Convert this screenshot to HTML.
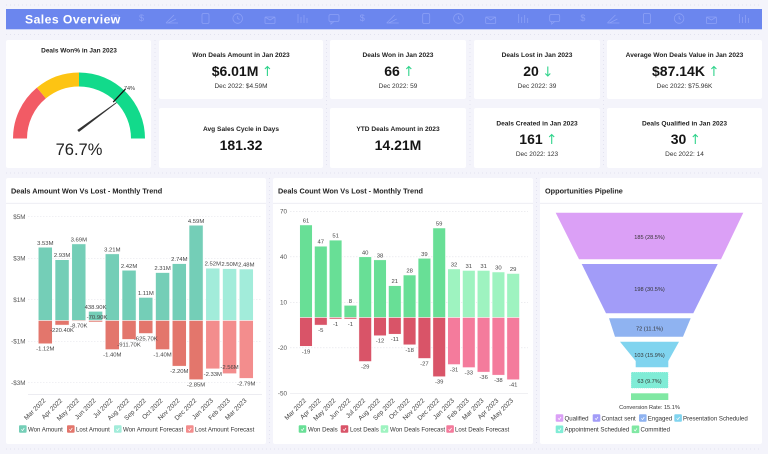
<!DOCTYPE html>
<html><head><meta charset="utf-8"><style>
html,body{margin:0;padding:0;background:#f4f4fb;}
svg{display:block;font-family:"Liberation Sans",sans-serif;}
</style></head><body>
<svg width="768" height="454" viewBox="0 0 768 454" xmlns="http://www.w3.org/2000/svg">
<rect width="768" height="454" fill="#f4f4fb"/>
<g stroke="#dcdcec" stroke-width="0.7" stroke-dasharray="1 3">
<line x1="6" y1="5" x2="762" y2="5"/><line x1="6" y1="34.5" x2="762" y2="34.5"/>
<line x1="6" y1="173" x2="762" y2="173"/><line x1="6" y1="449" x2="762" y2="449"/>
<line x1="155" y1="40" x2="155" y2="168"/><line x1="326.5" y1="40" x2="326.5" y2="168"/>
<line x1="470" y1="40" x2="470" y2="168"/><line x1="603.5" y1="40" x2="603.5" y2="168"/>
<line x1="269.5" y1="178" x2="269.5" y2="444"/><line x1="536.5" y1="178" x2="536.5" y2="444"/>
</g>
<!-- header -->
<rect x="6" y="9" width="756" height="20.3" fill="#6b86ee"/>
<g fill="none" stroke="#8da1f6" stroke-width="0.8">
<rect x="111" y="15" width="8" height="8" rx="2"/>
<g id="ic">
<path d="M166,23 L174,15 M168,23 L176,19 M166,23 L178,23"/>
<rect x="202" y="13.5" width="7" height="10" rx="1.5"/>
<circle cx="237.7" cy="18.5" r="4.8"/><path d="M237.7,16 L237.7,18.5 L239.5,19.5"/>
<rect x="265" y="17" width="10" height="6.5" rx="1"/><path d="M265,17 L270,20 L275,17"/>
<path d="M298,23 V14 M301,23 V17 M304,23 V15 M307,23 V18"/>
<rect x="329" y="14.5" width="10" height="7" rx="1.5"/><path d="M331,21.5 L331,24 L334,21.5"/>
</g>
<use href="#ic" x="220.7"/><use href="#ic" x="441.4"/>
</g>
<g fill="#8da1f6" font-size="9"><text x="139" y="21">$</text><text x="359.7" y="21">$</text><text x="580.4" y="21">$</text></g>
<text x="25" y="23.5" fill="#fff" font-size="12.2" font-weight="bold" letter-spacing="0.45">Sales Overview</text>

<!-- cards -->
<g fill="#fff">
<rect x="6" y="40" width="145" height="128" rx="2"/>
<rect x="159" y="40" width="164" height="59" rx="2"/>
<rect x="330" y="40" width="136" height="59" rx="2"/>
<rect x="474" y="40" width="126" height="59" rx="2"/>
<rect x="607" y="40" width="155" height="59" rx="2"/>
<rect x="159" y="108" width="164" height="60" rx="2"/>
<rect x="330" y="108" width="136" height="60" rx="2"/>
<rect x="474" y="108" width="126" height="60" rx="2"/>
<rect x="607" y="108" width="155" height="60" rx="2"/>
<rect x="6" y="178" width="260" height="266" rx="2"/>
<rect x="273" y="178" width="260" height="266" rx="2"/>
<rect x="540" y="178" width="222" height="266" rx="2"/>
</g>

<!-- gauge -->
<text x="79" y="52.5" text-anchor="middle" font-size="6.5" font-weight="bold" fill="#222">Deals Won% in Jan 2023</text>
<path d="M13,138.5 A66,66 0 0 1 36.93,87.65 L45.86,98.43 A52,52 0 0 0 27,138.5 Z" fill="#f25b65"/>
<path d="M36.93,87.65 A66,66 0 0 1 79,72.5 L79,86.5 A52,52 0 0 0 45.86,98.43 Z" fill="#fdc413"/>
<path d="M79,72.5 A66,66 0 0 1 145,138.5 L131,138.5 A52,52 0 0 0 79,86.5 Z" fill="#12da8b"/>
<line x1="113.2" y1="102.05" x2="125.55" y2="88.93" stroke="#111" stroke-width="1.3"/>
<text x="124" y="90" font-size="5.5" fill="#333">74%</text>
<polygon points="77.3,130 78.9,132 116.8,102.9 116.3,102.3" fill="#333"/>
<text x="79" y="155" text-anchor="middle" font-size="16.5" fill="#222">76.7%</text>

<!-- KPI titles -->
<g font-size="6.6" font-weight="bold" fill="#222" text-anchor="middle">
<text x="241" y="57">Won Deals Amount in Jan 2023</text>
<text x="398" y="57">Deals Won in Jan 2023</text>
<text x="537" y="57">Deals Lost in Jan 2023</text>
<text x="684.5" y="57">Average Won Deals Value in Jan 2023</text>
<text x="241" y="131">Avg Sales Cycle in Days</text>
<text x="398" y="131">YTD Deals Amount in 2023</text>
<text x="537" y="125.5">Deals Created in Jan 2023</text>
<text x="684.5" y="125.5">Deals Qualified in Jan 2023</text>
</g>
<g font-size="14" font-weight="bold" fill="#151515">
<text x="211.7" y="76">$6.01M</text>
<text x="384.2" y="76">66</text>
<text x="523.2" y="76">20</text>
<text x="652" y="76">$87.14K</text>
<text x="241" y="150" text-anchor="middle">181.32</text>
<text x="398" y="150" text-anchor="middle">14.21M</text>
<text x="519.3" y="144">161</text>
<text x="670.7" y="144">30</text>
</g>
<g fill="none" stroke="#2fd38b" stroke-width="1.1">
<path d="M267.4,76 V66.5 M264.9,69 L267.4,66.5 L269.9,69"/>
<path d="M408.8,76 V66.5 M406.3,69 L408.8,66.5 L411.3,69"/>
<path d="M547.8,66.5 V76 M545.3,73.5 L547.8,76 L550.3,73.5"/>
<path d="M713.9,76 V66.5 M711.4,69 L713.9,66.5 L716.4,69"/>
<path d="M551.7,144 V134.5 M549.2,137 L551.7,134.5 L554.2,137"/>
<path d="M695.3,144 V134.5 M692.8,137 L695.3,134.5 L697.8,137"/>
</g>
<g font-size="6.5" fill="#333" text-anchor="middle">
<text x="241" y="88">Dec 2022: $4.59M</text>
<text x="398" y="88">Dec 2022: 59</text>
<text x="537" y="88">Dec 2022: 39</text>
<text x="684.5" y="88">Dec 2022: $75.96K</text>
<text x="537" y="156">Dec 2022: 123</text>
<text x="684.5" y="156">Dec 2022: 14</text>
</g>

<!-- chart titles -->
<g font-size="7.3" font-weight="bold" fill="#222">
<text x="11" y="193.5">Deals Amount Won Vs Lost - Monthly Trend</text>
<text x="278" y="193.5">Deals Count Won Vs Lost - Monthly Trend</text>
<text x="545" y="193.5">Opportunities Pipeline</text>
</g>
<g stroke="#ececf2" stroke-width="0.8">
<line x1="6" y1="203.3" x2="266" y2="203.3"/><line x1="273" y1="203.3" x2="533" y2="203.3"/><line x1="540" y1="203.3" x2="762" y2="203.3"/>
</g>

<!-- LEFT CHART -->
<g stroke="#e2e2e8" stroke-width="0.6" stroke-dasharray="1.5 1.5">
<line x1="28" y1="216.75" x2="262" y2="216.75"/><line x1="28" y1="258.25" x2="262" y2="258.25"/>
<line x1="28" y1="299.75" x2="262" y2="299.75"/><line x1="28" y1="341.25" x2="262" y2="341.25"/>
<line x1="28" y1="382.75" x2="262" y2="382.75"/>
</g>
<line x1="28" y1="394.5" x2="262" y2="394.5" stroke="#e6e6ec" stroke-width="0.7"/>
<g font-size="6.3" fill="#555" text-anchor="end">
<text x="25.5" y="219">$5M</text><text x="25.5" y="260.5">$3M</text><text x="25.5" y="302">$1M</text>
<text x="25.5" y="343.5">-$1M</text><text x="25.5" y="385">-$3M</text>
</g>
<g stroke="#fff" stroke-width="0.5">
<g fill="#74ceb7">
<rect x="38.3" y="247.25" width="14" height="73.25"/><rect x="55.05" y="259.7" width="14" height="60.8"/>
<rect x="71.8" y="243.93" width="14" height="76.57"/><rect x="88.55" y="311.39" width="14" height="9.11"/>
<rect x="105.3" y="253.89" width="14" height="66.61"/><rect x="122.05" y="270.28" width="14" height="50.22"/>
<rect x="138.8" y="297.47" width="14" height="23.03"/><rect x="155.55" y="272.57" width="14" height="47.93"/>
<rect x="172.3" y="263.64" width="14" height="56.86"/><rect x="189.05" y="225.26" width="14" height="95.24"/>
</g>
<g fill="#a2ecda">
<rect x="205.8" y="268.21" width="14" height="52.29"/><rect x="222.55" y="268.62" width="14" height="51.88"/>
<rect x="239.3" y="269.04" width="14" height="51.46"/>
</g>
<g fill="#e3766c">
<rect x="38.3" y="320.5" width="14" height="23.24"/><rect x="55.05" y="320.5" width="14" height="4.57"/>
<rect x="71.8" y="320.5" width="14" height="0.8"/><rect x="88.55" y="320.5" width="14" height="1.47"/>
<rect x="105.3" y="320.5" width="14" height="29.05"/><rect x="122.05" y="320.5" width="14" height="18.92"/>
<rect x="138.8" y="320.5" width="14" height="12.98"/><rect x="155.55" y="320.5" width="14" height="29.05"/>
<rect x="172.3" y="320.5" width="14" height="45.65"/><rect x="189.05" y="320.5" width="14" height="59.14"/>
</g>
<g fill="#f38d8d">
<rect x="205.8" y="320.5" width="14" height="48.35"/><rect x="222.55" y="320.5" width="14" height="53.12"/>
<rect x="239.3" y="320.5" width="14" height="57.89"/>
</g>
</g>
<g font-size="5.9" fill="#444" text-anchor="middle">
<text x="45.3" y="244.75">3.53M</text><text x="62.05" y="257.2">2.93M</text><text x="78.8" y="241.4">3.69M</text>
<text x="95.55" y="308.9">438.90K</text><text x="112.3" y="251.4">3.21M</text><text x="129.05" y="267.8">2.42M</text>
<text x="145.8" y="295">1.11M</text><text x="162.55" y="270.1">2.31M</text><text x="179.3" y="261.1">2.74M</text>
<text x="196.05" y="222.8">4.59M</text><text x="212.8" y="265.7">2.52M</text><text x="229.55" y="266.1">2.50M</text>
<text x="246.3" y="266.5">2.48M</text>
<text x="45.3" y="350.7">-1.12M</text><text x="62.05" y="332.1">-220.40K</text><text x="78.8" y="327.7">-8.70K</text>
<text x="97" y="319">-70.90K</text><text x="112.3" y="356.5">-1.40M</text><text x="129.05" y="346.4">-911.70K</text>
<text x="145.8" y="340.5">-625.70K</text><text x="162.55" y="356.5">-1.40M</text><text x="179.3" y="373.1">-2.20M</text>
<text x="196.05" y="386.6">-2.85M</text><text x="212.8" y="375.8">-2.33M</text><text x="229.55" y="369">-2.56M</text>
<text x="246.3" y="385.4">-2.79M</text>
</g>
<g font-size="6.5" fill="#444" text-anchor="end">
<text transform="translate(46,401) rotate(-45)">Mar 2022</text>
<text transform="translate(62.75,401) rotate(-45)">Apr 2022</text>
<text transform="translate(79.5,401) rotate(-45)">May 2022</text>
<text transform="translate(96.25,401) rotate(-45)">Jun 2022</text>
<text transform="translate(113,401) rotate(-45)">Jul 2022</text>
<text transform="translate(129.75,401) rotate(-45)">Aug 2022</text>
<text transform="translate(146.5,401) rotate(-45)">Sep 2022</text>
<text transform="translate(163.25,401) rotate(-45)">Oct 2022</text>
<text transform="translate(180,401) rotate(-45)">Nov 2022</text>
<text transform="translate(196.75,401) rotate(-45)">Dec 2022</text>
<text transform="translate(213.5,401) rotate(-45)">Jan 2023</text>
<text transform="translate(230.25,401) rotate(-45)">Feb 2023</text>
<text transform="translate(247,401) rotate(-45)">Mar 2023</text>
</g>
<!-- legends -->
<g>
<rect x="19" y="425.2" width="7.6" height="7.6" rx="1" fill="#74ceb7"/>
<rect x="67" y="425.2" width="7.6" height="7.6" rx="1" fill="#e3766c"/>
<rect x="114" y="425.2" width="7.6" height="7.6" rx="1" fill="#a2ecda"/>
<rect x="186" y="425.2" width="7.6" height="7.6" rx="1" fill="#f38d8d"/>
<rect x="298.7" y="425.2" width="7.6" height="7.6" rx="1" fill="#68df96"/>
<rect x="340.7" y="425.2" width="7.6" height="7.6" rx="1" fill="#d95468"/>
<rect x="380.7" y="425.2" width="7.6" height="7.6" rx="1" fill="#9ef3c0"/>
<rect x="446.3" y="425.2" width="7.6" height="7.6" rx="1" fill="#f47b9c"/>
<rect x="555.7" y="414.2" width="7.6" height="7.6" rx="1" fill="#dba0f6"/>
<rect x="592.7" y="414.2" width="7.6" height="7.6" rx="1" fill="#a29cf8"/>
<rect x="639" y="414.2" width="7.6" height="7.6" rx="1" fill="#8fb3f1"/>
<rect x="674.3" y="414.2" width="7.6" height="7.6" rx="1" fill="#80d4ef"/>
<rect x="555.7" y="425.5" width="7.6" height="7.6" rx="1" fill="#80ecd6"/>
<rect x="631.7" y="425.5" width="7.6" height="7.6" rx="1" fill="#80e8a3"/>
</g>
<g fill="none" stroke="#fff" stroke-width="0.7">
<path d="M21.3,429.3 l1.2,1.3 l1.8,-2.6 M69.3,429.3 l1.2,1.3 l1.8,-2.6 M116.3,429.3 l1.2,1.3 l1.8,-2.6 M188.3,429.3 l1.2,1.3 l1.8,-2.6"/>
<path d="M301,429.3 l1.2,1.3 l1.8,-2.6 M343,429.3 l1.2,1.3 l1.8,-2.6 M383,429.3 l1.2,1.3 l1.8,-2.6 M448.6,429.3 l1.2,1.3 l1.8,-2.6"/>
<path d="M558,418.3 l1.2,1.3 l1.8,-2.6 M595,418.3 l1.2,1.3 l1.8,-2.6 M641.3,418.3 l1.2,1.3 l1.8,-2.6 M676.6,418.3 l1.2,1.3 l1.8,-2.6 M558,429.6 l1.2,1.3 l1.8,-2.6 M634,429.6 l1.2,1.3 l1.8,-2.6"/>
</g>
<g font-size="6.1" fill="#333">
<text x="28" y="431.3">Won Amount</text><text x="76" y="431.3">Lost Amount</text>
<text x="123" y="431.3">Won Amount Forecast</text><text x="195" y="431.3">Lost Amount Forecast</text>
<text x="308" y="431.3">Won Deals</text><text x="350" y="431.3">Lost Deals</text>
<text x="390" y="431.3">Won Deals Forecast</text><text x="455" y="431.3">Lost Deals Forecast</text>
<text x="564.5" y="420.3">Qualified</text><text x="601.5" y="420.3">Contact sent</text>
<text x="647.8" y="420.3">Engaged</text><text x="683" y="420.3">Presentation Scheduled</text>
<text x="564.5" y="431.6">Appointment Scheduled</text><text x="640.5" y="431.6">Committed</text>
</g>

<!-- MIDDLE CHART -->
<g stroke="#e2e2e8" stroke-width="0.6" stroke-dasharray="1.5 1.5">
<line x1="290" y1="211.3" x2="528" y2="211.3"/><line x1="290" y1="256.8" x2="528" y2="256.8"/>
<line x1="290" y1="302.3" x2="528" y2="302.3"/><line x1="290" y1="347.8" x2="528" y2="347.8"/>
</g>
<line x1="290" y1="393.3" x2="528" y2="393.3" stroke="#e6e6ec" stroke-width="0.7"/>
<g font-size="6.3" fill="#555" text-anchor="end">
<text x="287" y="213.5">70</text><text x="287" y="259">40</text><text x="287" y="304.5">10</text>
<text x="287" y="350">-20</text><text x="287" y="395.5">-50</text>
</g>
<g stroke="#fff" stroke-width="0.5">
<g fill="#68df96">
<rect x="299.7" y="224.96" width="12.6" height="92.54"/><rect x="314.5" y="246.2" width="12.6" height="71.3"/>
<rect x="329.3" y="240.13" width="12.6" height="77.37"/><rect x="344.1" y="305.36" width="12.6" height="12.14"/>
<rect x="358.9" y="256.82" width="12.6" height="60.68"/><rect x="373.7" y="259.85" width="12.6" height="57.65"/>
<rect x="388.5" y="285.64" width="12.6" height="31.86"/><rect x="403.3" y="275.02" width="12.6" height="42.48"/>
<rect x="418.1" y="258.34" width="12.6" height="59.16"/><rect x="432.9" y="228" width="12.6" height="89.5"/>
</g>
<g fill="#9ef3c0">
<rect x="447.7" y="268.96" width="12.6" height="48.54"/><rect x="462.5" y="270.47" width="12.6" height="47.03"/>
<rect x="477.3" y="270.47" width="12.6" height="47.03"/><rect x="492.1" y="271.99" width="12.6" height="45.51"/>
<rect x="506.9" y="273.51" width="12.6" height="43.99"/>
</g>
<g fill="#d95468">
<rect x="299.7" y="317.5" width="12.6" height="28.82"/><rect x="314.5" y="317.5" width="12.6" height="7.59"/>
<rect x="329.3" y="317.5" width="12.6" height="1.52"/><rect x="344.1" y="317.5" width="12.6" height="1.52"/>
<rect x="358.9" y="317.5" width="12.6" height="43.99"/><rect x="373.7" y="317.5" width="12.6" height="18.2"/>
<rect x="388.5" y="317.5" width="12.6" height="16.69"/><rect x="403.3" y="317.5" width="12.6" height="27.31"/>
<rect x="418.1" y="317.5" width="12.6" height="40.96"/><rect x="432.9" y="317.5" width="12.6" height="59.16"/>
</g>
<g fill="#f47b9c">
<rect x="447.7" y="317.5" width="12.6" height="47.03"/><rect x="462.5" y="317.5" width="12.6" height="50.06"/>
<rect x="477.3" y="317.5" width="12.6" height="54.61"/><rect x="492.1" y="317.5" width="12.6" height="57.65"/>
<rect x="506.9" y="317.5" width="12.6" height="62.2"/>
</g>
</g>
<g font-size="5.9" fill="#444" text-anchor="middle">
<text x="306" y="222.5">61</text><text x="320.8" y="243.7">47</text><text x="335.6" y="237.6">51</text>
<text x="350.4" y="302.9">8</text><text x="365.2" y="254.3">40</text><text x="380" y="257.4">38</text>
<text x="394.8" y="283.1">21</text><text x="409.6" y="272.5">28</text><text x="424.4" y="255.8">39</text>
<text x="439.2" y="225.5">59</text><text x="454" y="266.5">32</text><text x="468.8" y="268">31</text>
<text x="483.6" y="268">31</text><text x="498.4" y="269.5">30</text><text x="513.2" y="271">29</text>
<text x="306" y="353.3">-19</text><text x="320.8" y="332.1">-5</text><text x="335.6" y="326">-1</text>
<text x="350.4" y="326">-1</text><text x="365.2" y="368.5">-29</text><text x="380" y="342.7">-12</text>
<text x="394.8" y="341.2">-11</text><text x="409.6" y="351.8">-18</text><text x="424.4" y="365.5">-27</text>
<text x="439.2" y="383.7">-39</text><text x="454" y="371.5">-31</text><text x="468.8" y="374.6">-33</text>
<text x="483.6" y="379.1">-36</text><text x="498.4" y="382.2">-38</text><text x="513.2" y="386.7">-41</text>
</g>
<g font-size="6.5" fill="#444" text-anchor="end">
<text transform="translate(306.5,401) rotate(-45)">Mar 2022</text>
<text transform="translate(321.3,401) rotate(-45)">Apr 2022</text>
<text transform="translate(336.1,401) rotate(-45)">May 2022</text>
<text transform="translate(350.9,401) rotate(-45)">Jun 2022</text>
<text transform="translate(365.7,401) rotate(-45)">Jul 2022</text>
<text transform="translate(380.5,401) rotate(-45)">Aug 2022</text>
<text transform="translate(395.3,401) rotate(-45)">Sep 2022</text>
<text transform="translate(410.1,401) rotate(-45)">Oct 2022</text>
<text transform="translate(424.9,401) rotate(-45)">Nov 2022</text>
<text transform="translate(439.7,401) rotate(-45)">Dec 2022</text>
<text transform="translate(454.5,401) rotate(-45)">Jan 2023</text>
<text transform="translate(469.3,401) rotate(-45)">Feb 2023</text>
<text transform="translate(484.1,401) rotate(-45)">Mar 2023</text>
<text transform="translate(498.9,401) rotate(-45)">Apr 2023</text>
<text transform="translate(513.7,401) rotate(-45)">May 2023</text>
</g>

<!-- FUNNEL -->
<polygon points="555.7,212.7 743.3,212.7 721,259.3 579,259.3" fill="#dba0f6"/>
<polygon points="581.7,264 717.7,264 693.3,313.3 606,313.3" fill="#a29cf8"/>
<polygon points="609,318.3 690.7,318.3 683,336.7 615,336.7" fill="#8fb3f1"/>
<polygon points="620,341.7 679,341.7 668.3,361 668.3,367.3 635.7,367.3 635.7,361" fill="#80d4ef"/>
<rect x="631" y="372" width="37.3" height="16.3" fill="#80ecd6" stroke="#fff" stroke-width="0.6" stroke-dasharray="1 1"/>
<rect x="631" y="393.3" width="37.3" height="6.7" fill="#80e8a3"/>
<g font-size="5.6" fill="#333" text-anchor="middle">
<text x="649.5" y="239">185 (28.5%)</text>
<text x="649.5" y="291">198 (30.5%)</text>
<text x="649.5" y="330.5">72 (11.1%)</text>
<text x="649.5" y="357">103 (15.9%)</text>
<text x="649.5" y="383">63 (9.7%)</text>
<text x="649.5" y="409">Conversion Rate: 15.1%</text>
</g>
</svg>
</body></html>
